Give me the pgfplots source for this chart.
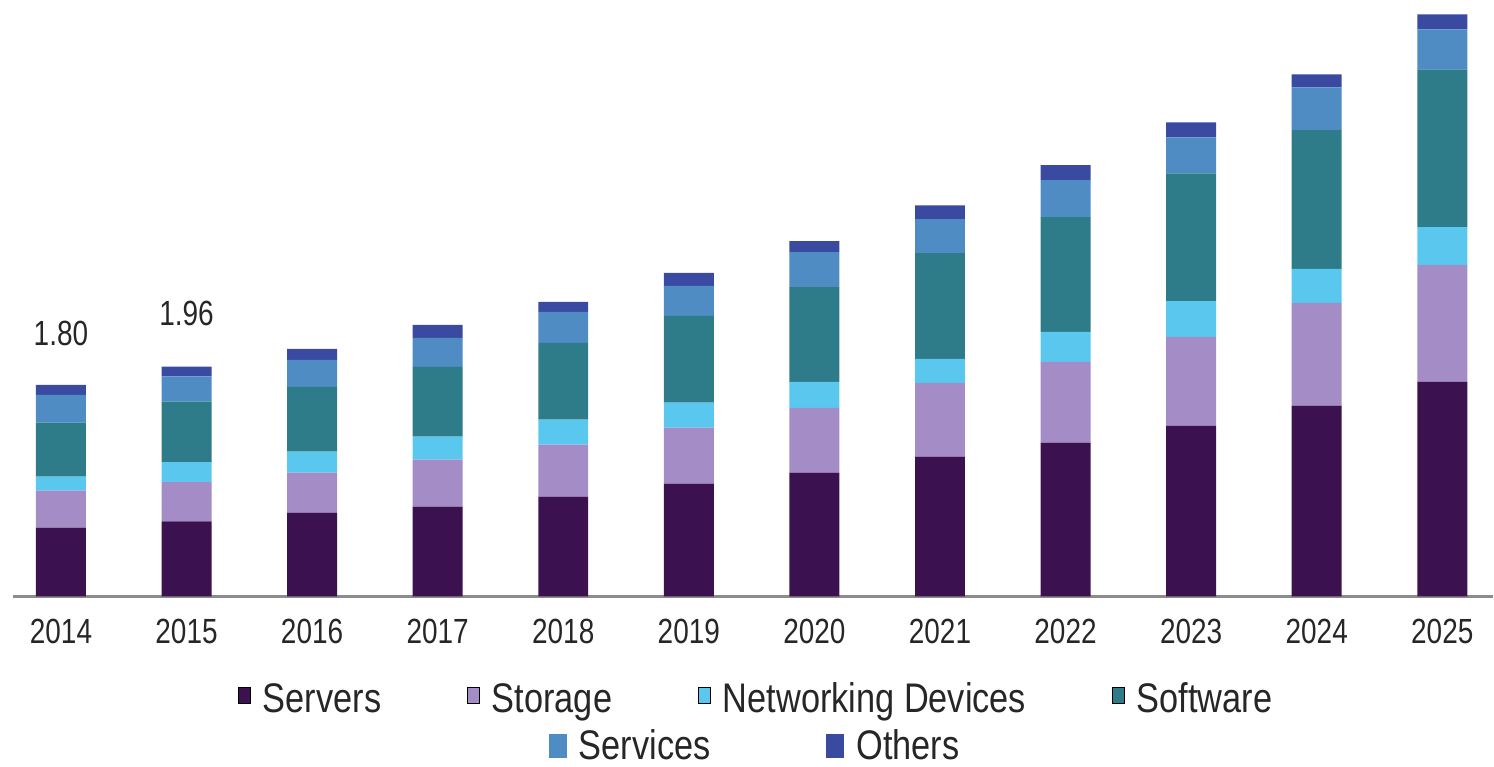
\documentclass[border=0pt]{standalone}
\usepackage{fontspec}
\setmainfont{Liberation Sans}
\usepackage{graphicx}
\usepackage{pgfplots}
\usepackage{pgfplotstable}
\pgfplotsset{compat=1.18}

\definecolor{servers}{HTML}{3B1150}
\definecolor{storage}{HTML}{A48CC6}
\definecolor{network}{HTML}{5AC8EE}
\definecolor{software}{HTML}{2E7C8A}
\definecolor{services}{HTML}{4F8CC4}
\definecolor{others}{HTML}{3A4AA0}
\definecolor{txt}{HTML}{262626}

% narrow the text a little, the source is horizontally squeezed
\newcommand{\nx}[1]{\scalebox{0.8}[1]{#1}}
\newcommand{\lx}[1]{\scalebox{0.83}[1]{#1}}

% year servers storage network software services others
\pgfplotstableread{
x  srv    sto    net    sw     svc    oth
0  0.587  0.315  0.119  0.460  0.238  0.085
1  0.640  0.335  0.170  0.515  0.215  0.085
2  0.715  0.340  0.179  0.553  0.230  0.094
3  0.766  0.400  0.196  0.596  0.247  0.111
4  0.851  0.443  0.213  0.655  0.264  0.085
5  0.962  0.477  0.213  0.740  0.255  0.111
6  1.055  0.553  0.221  0.809  0.298  0.094
7  1.191  0.630  0.204  0.902  0.289  0.119
8  1.311  0.689  0.255  0.979  0.315  0.128
9  1.455  0.757  0.306  1.089  0.306  0.128
10 1.626  0.877  0.289  1.183  0.366  0.111
11 1.830  0.996  0.323  1.345  0.340  0.128
}\market

\pgfplotsset{
  legend image code/.code={\fill[#1] (0pt,-6pt) rectangle (9pt,6pt);},
  every axis legend/.append style={
    draw=none, fill=none, anchor=center,
    font=\fontsize{20.7}{24}\selectfont, text=txt,
    nodes={inner sep=0pt},
    /tikz/every odd column/.append style={column sep=6pt},
    /tikz/every even column/.append style={column sep=43pt},
  },
}

\begin{document}
\begin{tikzpicture}
\path (-6.5pt,-84pt) rectangle (740.5pt,298.5pt);
\begin{axis}[
  scale only axis,
  width=740.5pt, height=293.5pt,
  xmin=-0.382, xmax=11.40, ymin=0, ymax=5,
  ybar stacked, bar width=25pt,
  axis y line=none, axis x line*=bottom,
  x axis line style={draw=black!45, line width=1.5pt},
  xtick={0,...,11},
  xticklabels={\nx{2014},\nx{2015},\nx{2016},\nx{2017},\nx{2018},\nx{2019},
    \nx{2020},\nx{2021},\nx{2022},\nx{2023},\nx{2024},\nx{2025}},
  major tick length=0pt, ytick=\empty,
  xticklabel style={anchor=center, yshift=-17.5pt,
    font=\fontsize{17.5}{20}\selectfont, text=txt},
  legend columns=4,
  legend style={at={(axis description cs:0.5017,-0.1755)}},
]
\addplot[fill=servers, draw=none] table[x=x, y=srv] {\market};
\addlegendentry{\lx{Servers}}
\addplot[fill=storage, draw=none] table[x=x, y=sto] {\market};
\addlegendentry{\lx{Storage}}
\addplot[fill=network, draw=none] table[x=x, y=net] {\market};
\addlegendentry{\lx{Networking Devices}}
\addplot[fill=software, draw=none] table[x=x, y=sw] {\market};
\addlegendentry{\lx{Software}}
\addplot[fill=services, draw=none] table[x=x, y=svc] {\market};
\addplot[fill=others, draw=none] table[x=x, y=oth] {\market};

\node[anchor=base, yshift=20pt, text=txt, font=\fontsize{17.5}{20}\selectfont]
  at (axis cs:0,1.80) {\nx{1.80}};
\node[anchor=base, yshift=20.5pt, text=txt, font=\fontsize{17.5}{20}\selectfont]
  at (axis cs:1,1.96) {\nx{1.96}};
\end{axis}

% second legend row, centred on its own like the source
\begin{axis}[
  scale only axis,
  width=740.5pt, height=293.5pt,
  hide axis, xmin=0, xmax=1, ymin=0, ymax=1,
  legend columns=2,
  legend style={at={(axis description cs:0.501,-0.2555)},
    /tikz/every even column/.append style={column sep=58pt}},
]
\addlegendimage{fill=services, draw=none}
\addlegendentry{\lx{Services}}
\addlegendimage{fill=others, draw=none}
\addlegendentry{\lx{Others}}
\end{axis}
\end{tikzpicture}
\end{document}
